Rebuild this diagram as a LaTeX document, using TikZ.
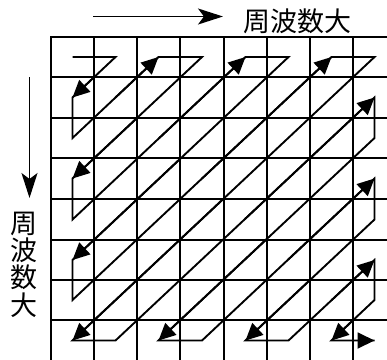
\documentclass[tikz,border=0pt]{standalone}
\usepackage{fontspec}
\newfontfamily\cjk{Noto Sans CJK JP}
\usetikzlibrary{arrows.meta,calc}
\tikzset{
  gridline/.style={line width=2pt},
  zig/.style={line width=1.9pt, line join=miter},
  zighead/.style={line width=1.9pt, -{Triangle[length=17pt,width=16pt]}},
  axisarrow/.style={line width=1.8pt, -{Stealth[length=25pt,width=16pt,inset=6pt]}},
  lbl/.style={font=\cjk\fontsize{27}{27.3}\selectfont, inner sep=0pt, align=center}
}
\begin{document}
\begin{tikzpicture}[x=1pt,y=-1pt]
\useasboundingbox (0,0) rectangle (387,359);
\clip (0,0) rectangle (387,359);
% grid
\foreach \gx in {51,94,137,180,224,267,310,353} {
  \draw[gridline] (\gx,36) -- (\gx,380);
}
\foreach \gy in {37,77,118,158,199,240,280,320} {
  \draw[gridline] (50,\gy) -- (400,\gy);
}
% cell centres
\foreach \r/\yy in {0/57,1/97.5,2/138,3/178.5,4/219.5,5/260,6/300,7/340.5} {
  \foreach \c/\xx in {0/72.5,1/115.5,2/158.5,3/202,4/245.5,5/288.5,6/331.5,7/374.5} {
    \coordinate (p\r\c) at (\xx,\yy);
  }
}
% zigzag path
\draw[zig] (p00) -- (p01) -- (p10) -- (p20) -- (p02) -- (p03) -- (p30) -- (p40)
  -- (p04) -- (p05) -- (p50) -- (p60) -- (p06) -- (p07) -- (p70) -- (p71)
  -- (p17) -- (p27) -- (p72) -- (p73) -- (p37) -- (p47) -- (p74) -- (p75)
  -- (p57) -- (p67) -- (p76) -- (p77);
% arrowheads at ends of diagonals
\foreach \a/\b in {p01/p10, p20/p02, p03/p30, p40/p04, p05/p50, p60/p06, p07/p70,
                   p71/p17, p27/p72, p73/p37, p47/p74, p75/p57, p67/p76, p76/p77} {
  \draw[zighead] ($(\a)!0.5!(\b)$) -- (\b);
}
% axis arrows
\coordinate (ha) at (93,16.5);
\coordinate (hb) at (223,16.5);
\draw[axisarrow] (ha) -- (hb);
\coordinate (va) at (29.5,77);
\coordinate (vb) at (29.5,198);
\draw[axisarrow] (va) -- (vb);
% labels
\node[lbl] (top) at (297.5,21) {周波数大};
\node[lbl] (left) at (23.5,264.5) {周\\波\\数\\大};
\end{tikzpicture}
\end{document}
